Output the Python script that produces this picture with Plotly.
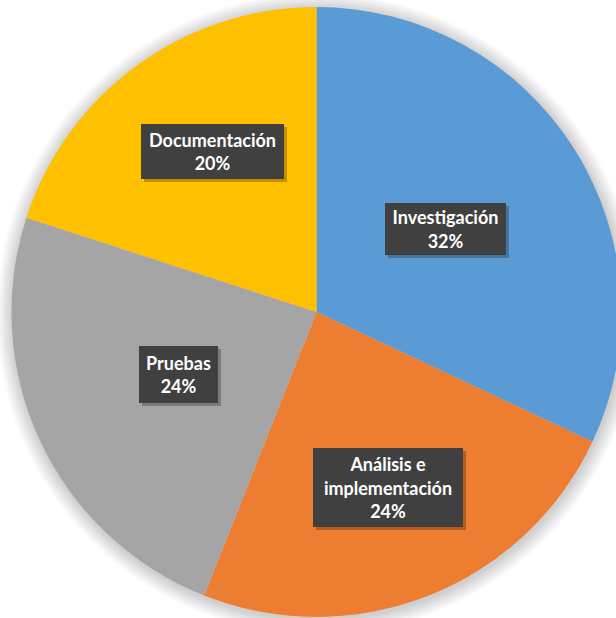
import plotly.graph_objects as go

# Distribución del tiempo por fase del proyecto
fases = ["Investigación", "Análisis e implementación", "Pruebas", "Documentación"]
etiquetas = ["Investigación", "Análisis e<br>implementación", "Pruebas", "Documentación"]
porcentajes = [32, 24, 24, 20]
colores = ["#5B9BD5", "#ED7D31", "#A5A5A5", "#FFC000"]

# label box centres (pixels from top-left) and box sizes
pos_etiqueta = [(445, 229), (388, 487), (178, 375), (212, 152)]
tam_etiqueta = [(121, 52), (150, 79), (79, 57), (143, 55)]

W, H = 633, 618
CX, CY, R = 316.5, 312.0, 305.0  # pixel centre / radius of the pie

fig = go.Figure()
fig.add_trace(go.Pie(
    labels=fases,
    values=porcentajes,
    marker=dict(colors=colores, line=dict(width=0)),
    sort=False,
    direction="clockwise",
    rotation=0,
    textinfo="none",
    hoverinfo="label+percent",
    showlegend=False,
    domain=dict(x=[0, 1], y=[(H - CY - R) / H, (H - CY + R) / H]),
))

# soft shadow around the pie
shapes = []
for i in range(12, 0, -1):
    g = i * 1.3
    shapes.append(dict(
        type="circle", xref="paper", yref="paper", layer="below",
        x0=(CX - R - g + 1) / W, x1=(CX + R + g + 1) / W,
        y0=(H - CY - R - g - 2) / H, y1=(H - CY + R + g - 2) / H,
        fillcolor="rgba(0,0,0,0.016)", line=dict(width=0),
    ))

# dark label boxes with a drop shadow
annotations = []
total = sum(porcentajes)
for txt, v, (px, py), (bw, bh) in zip(etiquetas, porcentajes, pos_etiqueta, tam_etiqueta):
    base = dict(xref="paper", yref="paper", x=px / W, y=(H - py) / H,
                xanchor="center", yanchor="middle", showarrow=False,
                borderpad=0, borderwidth=0, width=bw, height=bh)
    annotations.append(dict(base, text="&nbsp;", xshift=3, yshift=-3,
                            bgcolor="rgba(0,0,0,0.25)"))
    annotations.append(dict(base, text=f"{txt}<br>{round(v / total * 100)}%",
                            bgcolor="#404040",
                            font=dict(family="Lato", size=18, weight="bold",
                                      color="#FFFFFF")))

fig.update_layout(
    width=W, height=H,
    margin=dict(l=0, r=0, t=0, b=0),
    paper_bgcolor="#FFFFFF",
    plot_bgcolor="#FFFFFF",
    shapes=shapes,
    annotations=annotations,
)

fig.write_html("out.html", post_script="document.body.style.margin='0';document.body.style.overflow='hidden';")
